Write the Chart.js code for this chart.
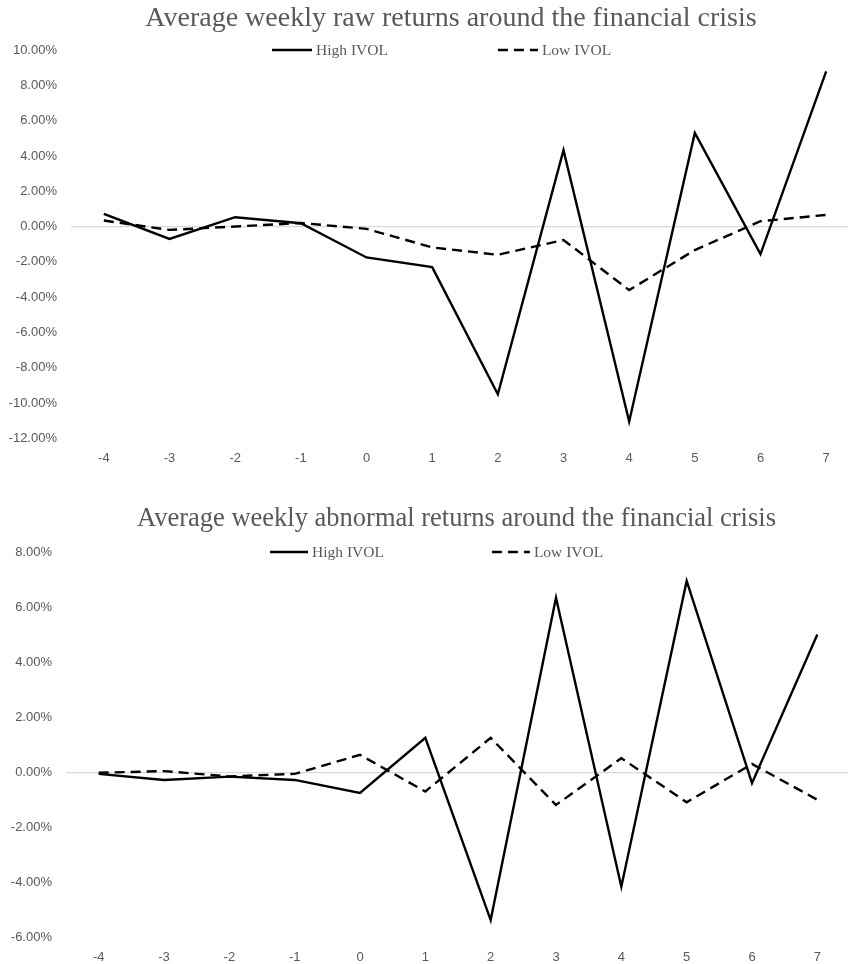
<!DOCTYPE html>
<html>
<head>
<meta charset="utf-8">
<script src="https://cdn.jsdelivr.net/npm/chart.js@4.4.1/dist/chart.umd.min.js"></script>
<style>
  html, body { margin: 0; padding: 0; background: #ffffff; width: 848px; height: 964px; overflow: hidden; }
  #wrap { position: relative; width: 848px; height: 964px; overflow: hidden; }
  .box { position: absolute; left: 0; }
  canvas { display: block; }
  .ttl { position: absolute; left: 0; text-align: center; white-space: nowrap; color: #595959;
         font-family: 'Liberation Serif', 'Times New Roman', serif; }
</style>
</head>
<body>
<div id="wrap">
  <div class="box" style="top:0px;"><canvas id="c1" width="880" height="490"></canvas></div>
  <div class="box" style="top:500px;"><canvas id="c2" width="880" height="480"></canvas></div>
  <div id="t1" class="ttl" style="top:3px; width:902px; font-size:28px; line-height:28px;"></div>
  <div id="t2" class="ttl" style="top:504px; width:913px; font-size:26.5px; line-height:26.5px;"></div>
</div>
<script>
// ---------- data ----------
const weeks = ['-4', '-3', '-2', '-1', '0', '1', '2', '3', '4', '5', '6', '7'];
const seriesNames = ['High IVOL', 'Low IVOL'];

const rawTitle = 'Average weekly raw returns around the financial crisis';
const rawHigh = [0.72, -0.70, 0.53, 0.19, -1.75, -2.30, -9.50, 4.33, -11.04, 5.30, -1.56, 8.79];
const rawLow  = [0.34, -0.19, 0.00, 0.20, -0.13, -1.18, -1.60, -0.76, -3.60, -1.33, 0.30, 0.66];
const rawTicks = [-12, -10, -8, -6, -4, -2, 0, 2, 4, 6, 8, 10];

const abnTitle = 'Average weekly abnormal returns around the financial crisis';
const abnHigh = [-0.06, -0.28, -0.16, -0.28, -0.75, 1.25, -5.37, 6.34, -4.16, 6.95, -0.40, 5.00];
const abnLow  = [-0.02, 0.04, -0.15, -0.06, 0.63, -0.70, 1.25, -1.19, 0.51, -1.09, 0.30, -1.00];
const abnTicks = [-6, -4, -2, 0, 2, 4, 6, 8];

// ---------- styling ----------
const GRAY = '#595959';
const SERIF = "'Liberation Serif', 'Times New Roman', serif";
const SANS = "'Liberation Sans', 'DejaVu Sans Condensed', sans-serif";
const DASH = [10, 6];

document.getElementById('t1').textContent = rawTitle;
document.getElementById('t2').textContent = abnTitle;

// custom legend drawn over the top of the plot area (like the Excel original)
const lineLegend = {
  id: 'lineLegend',
  afterDraw(chart, args, opts) {
    const ctx = chart.ctx;
    const y = chart.chartArea.top + (opts.dy || 0);
    let x = opts.x;
    ctx.save();
    ctx.font = opts.fontSize + 'px ' + SERIF;
    ctx.textBaseline = 'middle';
    ctx.textAlign = 'left';
    chart.data.datasets.forEach((ds, i) => {
      ctx.strokeStyle = ds.borderColor;
      ctx.lineWidth = ds.borderWidth;
      ctx.setLineDash(ds.borderDash || []);
      ctx.beginPath();
      ctx.moveTo(x, y);
      ctx.lineTo(x + opts.lineLen, y);
      ctx.stroke();
      ctx.setLineDash([]);
      ctx.fillStyle = GRAY;
      ctx.fillText(ds.label, x + opts.lineLen + 4, y + 1);
      x += opts.lineLen + 4 + ctx.measureText(ds.label).width + opts.gap;
    });
    ctx.restore();
  }
};

function makeChart(id, high, low, ticks, cfg) {
  const minV = ticks[0], maxV = ticks[ticks.length - 1];
  return new Chart(document.getElementById(id), {
    type: 'line',
    data: {
      labels: weeks,
      datasets: [
        { label: seriesNames[0], data: high, borderColor: '#000000', borderWidth: 2.4,
          pointRadius: 0, tension: 0, fill: false },
        { label: seriesNames[1], data: low, borderColor: '#000000', borderWidth: 2.4,
          borderDash: DASH, pointRadius: 0, tension: 0, fill: false }
      ]
    },
    options: {
      responsive: false,
      animation: false,
      devicePixelRatio: 1,
      layout: { padding: { left: 0, right: cfg.padRight, top: cfg.padTop, bottom: cfg.padBottom } },
      plugins: {
        legend: { display: false },
        tooltip: { enabled: false },
        title: { display: false },
        lineLegend: cfg.legend
      },
      scales: {
        x: {
          type: 'category', offset: true,
          grid: { display: false, drawTicks: false },
          border: { display: false },
          ticks: { color: GRAY, font: { family: SANS, size: 13 }, padding: 12, maxRotation: 0, autoSkip: false }
        },
        y: {
          min: minV, max: maxV,
          afterFit: (s) => { s.width = cfg.axisWidth; },
          afterBuildTicks: (s) => { s.ticks = ticks.map(v => ({ value: v })); },
          grid: {
            drawTicks: false,
            color: (c) => (c.tick && c.tick.value === 0) ? '#d9d9d9' : 'rgba(0,0,0,0)',
            lineWidth: 1.3
          },
          border: { display: false },
          ticks: {
            color: GRAY, font: { family: SANS, size: 13 }, padding: 14,
            callback: (v) => Number(v).toFixed(2) + '%'
          }
        }
      }
    },
    plugins: [lineLegend]
  });
}

makeChart('c1', rawHigh, rawLow, rawTicks, {
  padRight: 21, padTop: 50, padBottom: 12, axisWidth: 71,
  legend: { x: 272, dy: 0, lineLen: 40, gap: 110, fontSize: 15.5 }
});

makeChart('c2', abnHigh, abnLow, abnTicks, {
  padRight: 30, padTop: 52, padBottom: 3, axisWidth: 66,
  legend: { x: 270, dy: 0, lineLen: 38, gap: 108, fontSize: 15.5 }
});
</script>
</body>
</html>
